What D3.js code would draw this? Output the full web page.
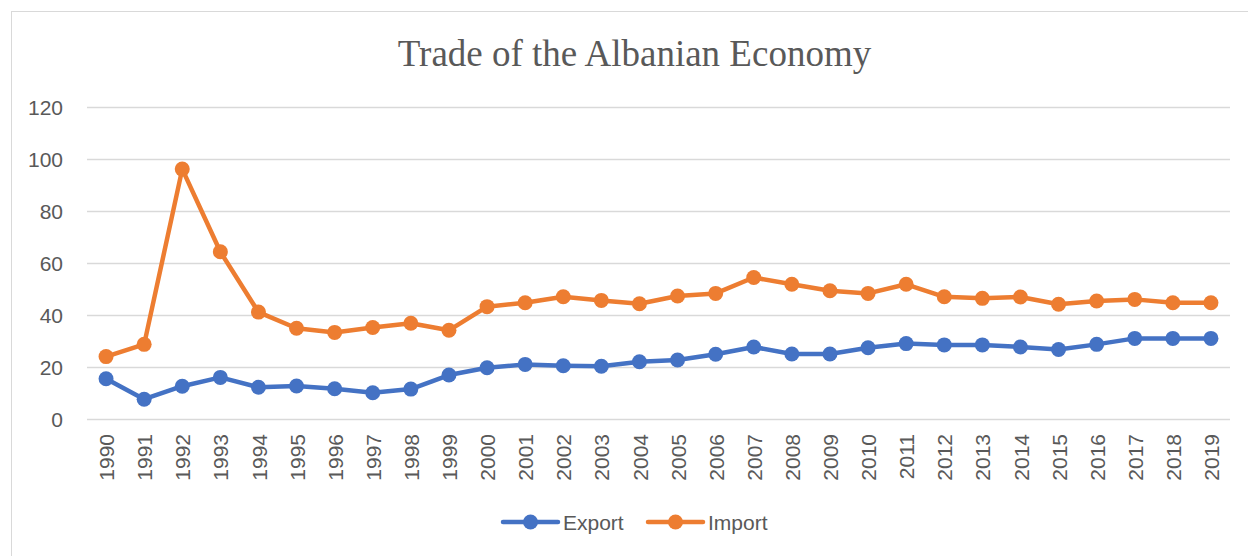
<!DOCTYPE html>
<html>
<head>
<meta charset="utf-8">
<script src="https://cdn.jsdelivr.net/npm/d3@7"></script>
<style>
  body { margin: 0; background: #fff; }
  text { font-family: "Liberation Sans", sans-serif; fill: #595959; }
</style>
</head>
<body>
<div class="graph-container"></div>
<script>
const years = d3.range(1990, 2020).map(String);
const exportValues = [15.7, 7.8, 12.8, 16.2, 12.4, 12.9, 11.8, 10.3, 11.7, 17.1,
  19.9, 21.2, 20.7, 20.5, 22.2, 22.9, 25.1, 27.9, 25.2, 25.2,
  27.6, 29.2, 28.7, 28.7, 27.9, 26.9, 28.9, 31.2, 31.2, 31.2];
const importValues = [24.2, 28.9, 96.3, 64.5, 41.3, 35.1, 33.5, 35.4, 37.0, 34.3,
  43.4, 44.9, 47.2, 45.8, 44.5, 47.5, 48.5, 54.6, 52.0, 49.5,
  48.5, 52.0, 47.2, 46.6, 47.1, 44.3, 45.6, 46.2, 44.9, 44.9];
const yTicks = [0, 20, 40, 60, 80, 100, 120];
const seriesNames = ["Export", "Import"];
const colors = ["#4472C4", "#ED7D31"];

let dims = { width: 1248, height: 556, left: 87, right: 1230, top: 107.5, bottom: 419.5 };

const svg = d3.select(".graph-container")
  .append("svg")
  .attr("width", dims.width)
  .attr("height", dims.height);

// chart border
svg.append("rect").attr("x", 11.5).attr("y", 11.5)
  .attr("width", 1250).attr("height", 560)
  .attr("fill", "none").attr("stroke", "#d9d9d9").attr("stroke-width", 1);

svg.append("text").text("Trade of the Albanian Economy")
  .attr("x", 634.5).attr("y", 66)
  .attr("text-anchor", "middle")
  .style("font-family", "'Liberation Serif', 'Times New Roman', serif")
  .attr("font-size", 37);

const x = d3.scalePoint().domain(years).range([dims.left, dims.right]).padding(0.5);
const y = d3.scaleLinear().domain([0, 120]).range([dims.bottom, dims.top]);

// gridlines
svg.append("g").selectAll("line").data(yTicks).enter().append("line")
  .attr("x1", dims.left).attr("x2", dims.right)
  .attr("y1", d => y(d)).attr("y2", d => y(d))
  .attr("stroke", "#d9d9d9").attr("stroke-width", 1.5);

// y labels
svg.append("g").selectAll("text").data(yTicks).enter().append("text")
  .text(d => d)
  .attr("x", 63).attr("y", d => y(d)).attr("dy", "0.36em")
  .attr("text-anchor", "end").attr("font-size", 21);

// x labels
svg.append("g").selectAll("text").data(years).enter().append("text")
  .text(d => d)
  .attr("transform", d => `translate(${x(d) + 0.5},434) rotate(-90)`)
  .attr("dy", "0.36em")
  .attr("text-anchor", "end").attr("font-size", 21);

const series = [exportValues, importValues];
const line = d3.line().x((d, i) => x(years[i])).y(d => y(d));

series.forEach((vals, s) => {
  const g = svg.append("g");
  g.append("path").attr("d", line(vals))
    .attr("fill", "none").attr("stroke", colors[s])
    .attr("stroke-width", 4.5).attr("stroke-linejoin", "round");
  g.selectAll("circle").data(vals).enter().append("circle")
    .attr("cx", (d, i) => x(years[i])).attr("cy", d => y(d))
    .attr("r", 7.5).attr("fill", colors[s]);
});

// legend
const legend = svg.append("g").attr("transform", "translate(503,522)");
const legendX = [0, 145];
seriesNames.forEach((name, i) => {
  const item = legend.append("g").attr("transform", `translate(${legendX[i]},0)`);
  item.append("line").attr("x1", 0).attr("x2", 55)
    .attr("stroke", colors[i]).attr("stroke-width", 4.5).attr("stroke-linecap", "round");
  item.append("circle").attr("cx", 27.5).attr("r", 7.5).attr("fill", colors[i]);
  item.append("text").text(name).attr("x", 60).attr("dy", "0.36em").attr("font-size", 21);
});
</script>
</body>
</html>
